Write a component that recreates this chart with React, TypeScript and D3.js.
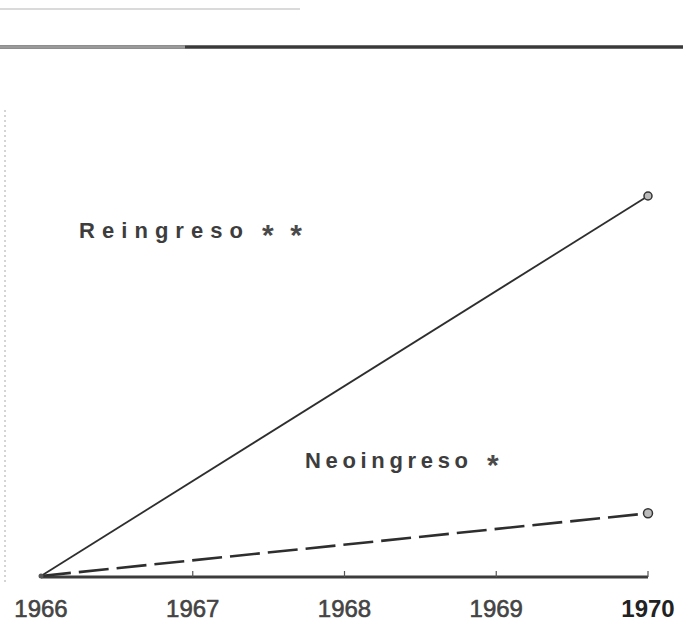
import React from "react";
import * as d3 from "d3";

const years = [1966, 1967, 1968, 1969, 1970];
const yearLabels = ["1966", "1967", "1968", "1969", "1970"];
const reingresoYears = [1966, 1970];
const reingresoValues = [0, 100];
const neoingresoYears = [1966, 1970];
const neoingresoValues = [0, 16.5];
const seriesNames = ["Reingreso", "Neoingreso"];
const seriesMarks = ["**", "*"];

export default function App() {
  const W = 683, H = 623;
  const x = d3.scaleLinear().domain([1966, 1970]).range([41, 648]);
  const y = d3.scaleLinear().domain([0, 100]).range([576, 196]);
  const line = d3.line<[number, number]>().x(d => x(d[0])).y(d => y(d[1]));
  const reData = reingresoYears.map((yr, i) => [yr, reingresoValues[i]] as [number, number]);
  const neoData = neoingresoYears.map((yr, i) => [yr, neoingresoValues[i]] as [number, number]);
  const axisFont = "'Liberation Sans', Arial, sans-serif";
  const typeFont = "'Liberation Sans', Arial, sans-serif";
  return (
    <svg width={W} height={H} style={{ position: "absolute", left: 0, top: 0, background: "#fff" }}>
      <rect width={W} height={H} fill="#fff" />
      {/* top rules */}
      <line x1={0} x2={683} y1={47} y2={47} stroke="#3a3a3a" strokeWidth={3.5} />
      <line x1={0} x2={185} y1={47} y2={47} stroke="#9a9a9a" strokeWidth={3.5} />
      <line x1={0} x2={300} y1={9} y2={9} stroke="#b5b5b5" strokeWidth={1} />
      {/* left faint dotted border */}
      <line x1={5} x2={5} y1={110} y2={582} stroke="#aaa" strokeWidth={1} strokeDasharray="2,3" />
      {/* x axis */}
      <line x1={x(1966)} x2={x(1970)} y1={577} y2={577} stroke="#3c3c3c" strokeWidth={3} />
      {years.map((yr, i) => (
        <g key={yr}>
          {i > 0 && (
            <line x1={x(yr)} x2={x(yr)} y1={571} y2={577} stroke="#555" strokeWidth={1.2} />
          )}
          <text
            x={x(yr)}
            y={617}
            textAnchor="middle"
            fontFamily={axisFont}
            fontWeight={i === years.length - 1 ? 700 : 400}
            fontSize={24}
            stroke={i === years.length - 1 ? "none" : "#444"}
            strokeWidth={0.6}
            fill={i === years.length - 1 ? "#222" : "#444"}
          >
            {yearLabels[i]}
          </text>
        </g>
      ))}
      {/* series lines */}
      <path d={line(reData) || ""} fill="none" stroke="#2e2e2e" strokeWidth={1.8} />
      <path d={line(neoData) || ""} fill="none" stroke="#2e2e2e" strokeWidth={2.6} strokeDasharray="30,8" />
      <circle cx={x(1970)} cy={y(reingresoValues[1])} r={4} fill="#bbb" stroke="#333" strokeWidth={1.5} />
      <circle cx={x(1970)} cy={y(neoingresoValues[1])} r={4.5} fill="#bbb" stroke="#333" strokeWidth={1.5} />
      <circle cx={x(1966)} cy={y(0)} r={2.5} fill="#555" />
      {/* labels */}
      <text x={79} y={238} fontFamily={typeFont} fontWeight={700} fontSize={22}
        textLength={164} lengthAdjust="spacing" fill="#3d3d3d">
        {seriesNames[0]}
      </text>
      <text x={262} y={245} fontFamily={typeFont} fontWeight={700} fontSize={30}
        textLength={40} lengthAdjust="spacing" fill="#4a4a4a">
        {seriesMarks[0]}
      </text>
      <text x={305} y={468} fontFamily={typeFont} fontWeight={700} fontSize={22}
        textLength={163} lengthAdjust="spacing" fill="#3d3d3d">
        {seriesNames[1]}
      </text>
      <text x={487} y={475} fontFamily={typeFont} fontWeight={700} fontSize={30} fill="#4a4a4a">
        {seriesMarks[1]}
      </text>
    </svg>
  );
}
